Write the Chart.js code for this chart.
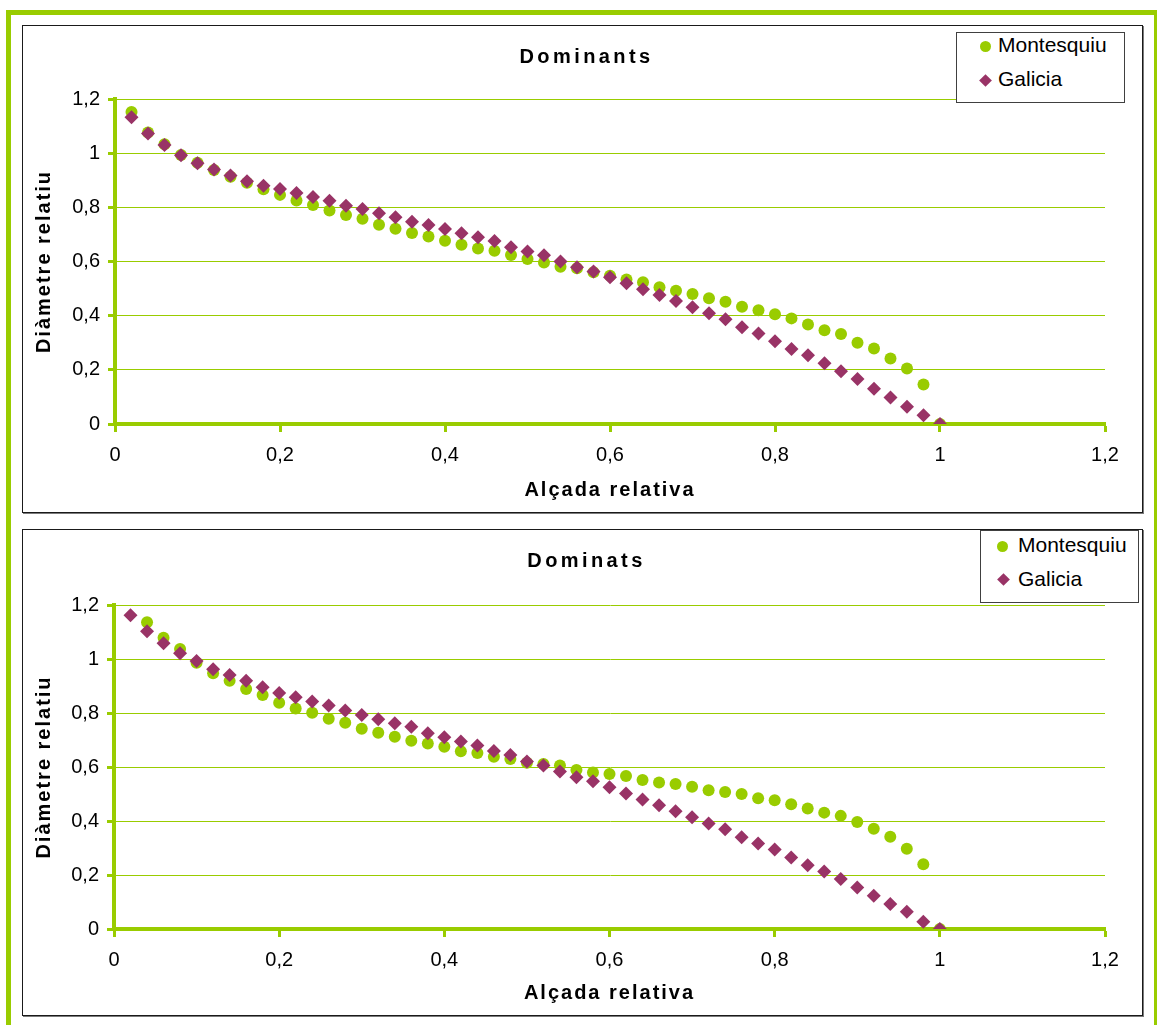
<!DOCTYPE html>
<html>
<head>
<meta charset="utf-8">
<script src="https://cdn.jsdelivr.net/npm/chart.js@4/dist/chart.umd.min.js"></script>
<style>
html,body{margin:0;padding:0;background:#fff;width:1157px;height:1025px;overflow:hidden;font-family:"Liberation Sans",Arial,sans-serif;}
#frame{position:absolute;left:6px;top:10px;width:1153px;height:1100px;box-sizing:border-box;border:5px solid #99CC00;border-bottom:none;}
.box{position:absolute;left:22px;width:1121px;box-sizing:border-box;border:1px solid #1a1a1a;box-shadow:1px 1px 0 #7a7a7a;background:#fff;}
.box canvas{position:absolute;left:0;top:0;}
.legend{position:absolute;border:1px solid #404040;background:#fff;box-sizing:border-box;}
.legend .item{position:absolute;font-size:21px;line-height:24px;color:#000;white-space:nowrap;}
.legend .circ{position:absolute;width:11px;height:11px;border-radius:50%;background:#99CC00;}
.legend .diam{position:absolute;width:9px;height:9px;background:#993366;transform:rotate(45deg);}
</style>
</head>
<body>
<div id="frame"></div>
<div class="box" style="top:25px;height:488px;"><canvas id="c1" width="1119" height="486"></canvas></div>
<div class="box" style="top:529px;height:487px;"><canvas id="c2" width="1119" height="485"></canvas></div>

<div class="legend" style="left:956px;top:32px;width:169px;height:71px;">
  <div class="circ" style="left:22.5px;top:7.5px;"></div><div class="item" style="left:41px;top:0px;">Montesquiu</div>
  <div class="diam" style="left:23.5px;top:42.5px;"></div><div class="item" style="left:41px;top:34px;">Galicia</div>
</div>
<div class="legend" style="left:980px;top:530px;width:159px;height:73px;">
  <div class="circ" style="left:15.5px;top:9.5px;"></div><div class="item" style="left:37px;top:2px;">Montesquiu</div>
  <div class="diam" style="left:17.5px;top:43.5px;"></div><div class="item" style="left:37px;top:36px;">Galicia</div>
</div>

<script>
// ---- Data ----
const xValues = [0.02,0.04,0.06,0.08,0.10,0.12,0.14,0.16,0.18,0.20,
                 0.22,0.24,0.26,0.28,0.30,0.32,0.34,0.36,0.38,0.40,
                 0.42,0.44,0.46,0.48,0.50,0.52,0.54,0.56,0.58,0.60,
                 0.62,0.64,0.66,0.68,0.70,0.72,0.74,0.76,0.78,0.80,
                 0.82,0.84,0.86,0.88,0.90,0.92,0.94,0.96,0.98,1.00];

const montesquiuDominants = [1.152,1.076,1.033,0.993,0.965,0.938,0.913,0.891,0.867,0.846,
                             0.825,0.809,0.788,0.772,0.758,0.736,0.721,0.705,0.692,0.677,
                             0.662,0.648,0.640,0.624,0.609,0.596,0.581,0.575,0.560,0.547,
                             0.534,0.523,0.505,0.492,0.480,0.464,0.451,0.433,0.420,0.405,
                             0.390,0.367,0.346,0.332,0.300,0.279,0.242,0.205,0.146,0];
const galiciaDominants = [1.133,1.073,1.030,0.992,0.963,0.940,0.918,0.896,0.880,0.868,
                          0.853,0.838,0.824,0.806,0.794,0.778,0.763,0.747,0.735,0.720,
                          0.704,0.690,0.676,0.653,0.637,0.623,0.600,0.579,0.563,0.542,
                          0.520,0.498,0.476,0.454,0.431,0.409,0.387,0.357,0.334,0.306,
                          0.277,0.254,0.224,0.195,0.166,0.130,0.098,0.064,0.032,0];
const montesquiuDominats = [null,1.136,1.079,1.037,0.986,0.947,0.919,0.889,0.867,0.838,
                            0.817,0.801,0.779,0.764,0.742,0.727,0.712,0.697,0.687,0.675,
                            0.658,0.652,0.638,0.630,0.616,0.611,0.606,0.589,0.580,0.574,
                            0.567,0.552,0.543,0.537,0.527,0.514,0.507,0.500,0.484,0.477,
                            0.462,0.446,0.431,0.419,0.396,0.371,0.342,0.297,0.240,0];
const galiciaDominats = [1.162,1.103,1.058,1.021,0.993,0.962,0.941,0.919,0.895,0.874,
                         0.858,0.843,0.828,0.809,0.793,0.777,0.762,0.749,0.725,0.710,
                         0.694,0.680,0.659,0.644,0.620,0.606,0.583,0.562,0.547,0.525,
                         0.502,0.480,0.458,0.436,0.414,0.391,0.369,0.340,0.317,0.294,
                         0.265,0.236,0.213,0.185,0.154,0.123,0.093,0.064,0.027,0];

const seriesNames = ['Montesquiu','Galicia'];
const chartTitles = ['Dominants','Dominats'];
const xTitle = 'Alçada relativa';
const yTitle = 'Diàmetre relatiu';
const xTickLabels = ['0','0,2','0,4','0,6','0,8','1','1,2'];
const yTickLabels = ['0','0,2','0,4','0,6','0,8','1','1,2'];

// ---- Styling helpers ----
const GREEN = '#99CC00';
const PURPLE = '#993366';
Chart.defaults.font.family = '"Liberation Sans", Arial, sans-serif';
Chart.defaults.color = '#000';

// letter-spaced axis titles
(function(){
  let proto = Chart.registry.getScale('linear').prototype;
  while (proto && !Object.prototype.hasOwnProperty.call(proto,'drawTitle')) proto = Object.getPrototypeOf(proto);
  if (proto) {
    const orig = proto.drawTitle;
    proto.drawTitle = function(){
      const c = this.ctx; c.save(); c.letterSpacing = '2px'; orig.apply(this, arguments); c.restore();
    };
  }
})();

const spacedTitle = {
  id: 'spacedTitle',
  beforeDraw(chart){
    const tb = chart.titleBlock;
    if (tb && !tb._spaced) {
      const orig = tb.draw.bind(tb);
      tb.draw = function(){ const c = chart.ctx; c.save(); c.letterSpacing = '3.4px'; orig.apply(null, arguments); c.restore(); };
      tb._spaced = true;
    }
  }
};

function pairs(xs, ys){
  const out = [];
  for (let i = 0; i < xs.length; i++) if (ys[i] !== null && ys[i] !== undefined) out.push({x: xs[i], y: ys[i]});
  return out;
}

function makeChart(id, title, mData, gData, L){
  return new Chart(document.getElementById(id), {
    type: 'scatter',
    data: {
      datasets: [
        {label: seriesNames[0], data: pairs(xValues, mData), pointStyle: 'circle', pointRadius: 6,
         pointBackgroundColor: GREEN, pointBorderWidth: 0, borderWidth: 0, order: 1, yAxisID: 'y'},
        {label: seriesNames[1], data: pairs(xValues, gData), pointStyle: 'rectRot', pointRadius: 7,
         pointBackgroundColor: PURPLE, pointBorderWidth: 0, borderWidth: 0, order: 0, yAxisID: 'y'}
      ]
    },
    options: {
      responsive: false, animation: false, devicePixelRatio: 1,
      layout: {padding: {left: 8, right: 0, top: 0, bottom: 0}},
      plugins: {
        legend: {display: false},
        tooltip: {enabled: false},
        title: {display: true, text: title, color: '#000',
                font: {size: 20, weight: 'bold'}, padding: {top: 19, bottom: L.titleBottom}}
      },
      scales: {
        x: {
          type: 'linear', min: 0, max: 1.2,
          afterFit: s => { s.height = L.xHeight; },
          ticks: {stepSize: 0.2, padding: 11, font: {size: 20}, color: '#000',
                  callback: (v, i) => xTickLabels[i]},
          grid: {drawOnChartArea: false, drawTicks: true, tickLength: 8, tickWidth: 3, tickColor: GREEN},
          border: {display: true, color: GREEN, width: 4},
          title: {display: true, text: xTitle, color: '#000', font: {size: 20, weight: 'bold'},
                  padding: {top: 0, bottom: 10}}
        },
        y: {
          type: 'linear', min: 0, max: 1.2,
          afterFit: s => { s.width = L.yWidth; },
          ticks: {stepSize: 0.2, padding: 8, font: {size: 20}, color: '#000',
                  callback: (v, i) => yTickLabels[i]},
          grid: {color: GREEN, lineWidth: 1, drawTicks: true, tickLength: 7, tickWidth: 3, tickColor: GREEN},
          border: {display: true, color: GREEN, width: 4},
          title: {display: true, text: yTitle, color: '#000', font: {size: 20, weight: 'bold'},
                  padding: {top: 1, bottom: 0}}
        },
        yRight: {
          type: 'linear', position: 'right', display: true,
          afterFit: s => { s.width = 37; },
          ticks: {display: false}, grid: {display: false}, border: {display: false}
        }
      }
    },
    plugins: [spacedTitle]
  });
}

const chart1 = makeChart('c1', chartTitles[0], montesquiuDominants, galiciaDominants,
                         {titleBottom: 30, xHeight: 88, yWidth: 84});
const chart2 = makeChart('c2', chartTitles[1], montesquiuDominats, galiciaDominats,
                         {titleBottom: 32, xHeight: 86, yWidth: 83});
chart1.draw(); chart2.draw();
</script>
</body>
</html>
